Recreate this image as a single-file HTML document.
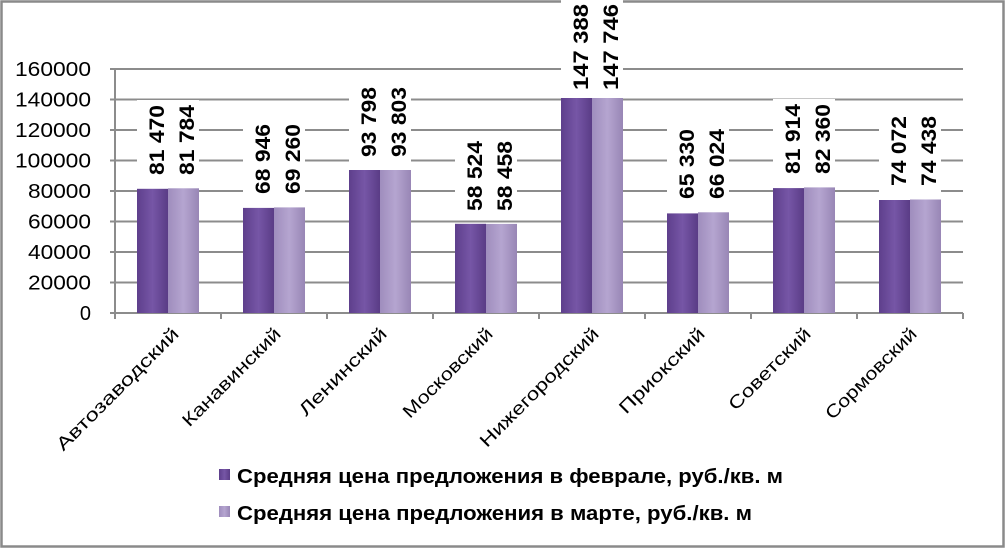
<!DOCTYPE html>
<html><head><meta charset="utf-8"><style>
html,body{margin:0;padding:0;background:#fff;}
svg{display:block;font-family:"Liberation Sans",sans-serif;}
</style></head><body>
<svg width="1006" height="549" viewBox="0 0 1006 549" xmlns="http://www.w3.org/2000/svg">
<defs>
<linearGradient id="d" x1="0" x2="1" y1="0" y2="0"><stop offset="0" stop-color="#5e3f8c"/><stop offset="0.5" stop-color="#7656a6"/><stop offset="1" stop-color="#5a3c86"/></linearGradient>
<linearGradient id="l" x1="0" x2="1" y1="0" y2="0"><stop offset="0" stop-color="#9f8dbd"/><stop offset="0.5" stop-color="#b5a5d0"/><stop offset="1" stop-color="#9886b5"/></linearGradient>
</defs>
<rect x="1.5" y="1.5" width="1002" height="545" fill="#fff" stroke="#8a8a8a" stroke-width="2.5"/>
<g stroke="#8c8c8c" stroke-width="2">
<line x1="110" x2="963" y1="69" y2="69"/><line x1="110" x2="963" y1="99.5" y2="99.5"/><line x1="110" x2="963" y1="130" y2="130"/><line x1="110" x2="963" y1="160.5" y2="160.5"/><line x1="110" x2="963" y1="191" y2="191"/><line x1="110" x2="963" y1="221.5" y2="221.5"/><line x1="110" x2="963" y1="252" y2="252"/><line x1="110" x2="963" y1="282.5" y2="282.5"/>
<line x1="115" x2="115" y1="69" y2="319"/>
<line x1="110" x2="963" y1="313" y2="313"/>
<line x1="221" x2="221" y1="313" y2="319"/><line x1="327" x2="327" y1="313" y2="319"/><line x1="433" x2="433" y1="313" y2="319"/><line x1="539" x2="539" y1="313" y2="319"/><line x1="645" x2="645" y1="313" y2="319"/><line x1="751" x2="751" y1="313" y2="319"/><line x1="857" x2="857" y1="313" y2="319"/><line x1="963" x2="963" y1="313" y2="319"/>
</g>
<g font-size="20" text-anchor="end" fill="#000" lengthAdjust="spacingAndGlyphs">
<text x="91" y="76" textLength="76" lengthAdjust="spacingAndGlyphs">160000</text><text x="91" y="106.5" textLength="76" lengthAdjust="spacingAndGlyphs">140000</text><text x="91" y="137" textLength="76" lengthAdjust="spacingAndGlyphs">120000</text><text x="91" y="167.5" textLength="76" lengthAdjust="spacingAndGlyphs">100000</text><text x="91" y="198" textLength="63" lengthAdjust="spacingAndGlyphs">80000</text><text x="91" y="228.5" textLength="63" lengthAdjust="spacingAndGlyphs">60000</text><text x="91" y="259" textLength="63" lengthAdjust="spacingAndGlyphs">40000</text><text x="91" y="289.5" textLength="63" lengthAdjust="spacingAndGlyphs">20000</text><text x="91" y="320">0</text>
</g>
<g>
<rect x="137" y="188.8" width="31" height="124.2" fill="url(#d)"/><rect x="168" y="188.3" width="31" height="124.7" fill="url(#l)"/>
<rect x="243" y="207.9" width="31" height="105.1" fill="url(#d)"/><rect x="274" y="207.4" width="31" height="105.6" fill="url(#l)"/>
<rect x="349" y="170" width="31" height="143" fill="url(#d)"/><rect x="380" y="170" width="31" height="143" fill="url(#l)"/>
<rect x="455" y="223.8" width="31" height="89.2" fill="url(#d)"/><rect x="486" y="223.9" width="31" height="89.1" fill="url(#l)"/>
<rect x="561" y="88.2" width="31" height="224.8" fill="url(#d)"/><rect x="592" y="87.7" width="31" height="225.3" fill="url(#l)"/>
<rect x="667" y="213.4" width="31" height="99.6" fill="url(#d)"/><rect x="698" y="212.3" width="31" height="100.7" fill="url(#l)"/>
<rect x="773" y="188.1" width="31" height="124.9" fill="url(#d)"/><rect x="804" y="187.4" width="31" height="125.6" fill="url(#l)"/>
<rect x="879" y="200" width="31" height="113" fill="url(#d)"/><rect x="910" y="199.5" width="31" height="113.5" fill="url(#l)"/>
</g>
<g fill="#fff">
<rect x="137" y="100" width="62" height="83"/>
<rect x="243" y="119" width="62" height="83"/>
<rect x="349" y="81" width="62" height="84"/>
<rect x="455" y="135" width="62" height="84"/>
<rect x="561" y="0" width="62" height="98"/>
<rect x="667" y="124" width="62" height="83"/>
<rect x="773" y="99" width="62" height="83"/>
<rect x="879" y="111" width="62" height="83"/>
</g>
<g font-size="21" font-weight="bold" fill="#000">
<text transform="translate(164,175) rotate(-90)" textLength="70" lengthAdjust="spacingAndGlyphs">81 470</text><text transform="translate(194,175) rotate(-90)" textLength="70" lengthAdjust="spacingAndGlyphs">81 784</text>
<text transform="translate(270,194) rotate(-90)" textLength="70" lengthAdjust="spacingAndGlyphs">68 946</text><text transform="translate(300,194) rotate(-90)" textLength="70" lengthAdjust="spacingAndGlyphs">69 260</text>
<text transform="translate(376,157) rotate(-90)" textLength="70" lengthAdjust="spacingAndGlyphs">93 798</text><text transform="translate(406,157) rotate(-90)" textLength="70" lengthAdjust="spacingAndGlyphs">93 803</text>
<text transform="translate(482,211) rotate(-90)" textLength="70" lengthAdjust="spacingAndGlyphs">58 524</text><text transform="translate(512,211) rotate(-90)" textLength="70" lengthAdjust="spacingAndGlyphs">58 458</text>
<text transform="translate(588,90) rotate(-90)" textLength="86" lengthAdjust="spacingAndGlyphs">147 388</text><text transform="translate(618,90) rotate(-90)" textLength="86" lengthAdjust="spacingAndGlyphs">147 746</text>
<text transform="translate(694,199) rotate(-90)" textLength="70" lengthAdjust="spacingAndGlyphs">65 330</text><text transform="translate(724,199) rotate(-90)" textLength="70" lengthAdjust="spacingAndGlyphs">66 024</text>
<text transform="translate(800,174) rotate(-90)" textLength="70" lengthAdjust="spacingAndGlyphs">81 914</text><text transform="translate(830,174) rotate(-90)" textLength="70" lengthAdjust="spacingAndGlyphs">82 360</text>
<text transform="translate(906,186) rotate(-90)" textLength="70" lengthAdjust="spacingAndGlyphs">74 072</text><text transform="translate(936,186) rotate(-90)" textLength="70" lengthAdjust="spacingAndGlyphs">74 438</text>
</g>
<g font-size="18" text-anchor="end" fill="#000">
<text transform="translate(180,335) rotate(-45)" textLength="165" lengthAdjust="spacingAndGlyphs">Автозаводский</text>
<text transform="translate(282,335) rotate(-45)" textLength="131" lengthAdjust="spacingAndGlyphs">Канавинский</text>
<text transform="translate(388,335) rotate(-45)" textLength="116" lengthAdjust="spacingAndGlyphs">Ленинский</text>
<text transform="translate(494,335) rotate(-45)" textLength="119" lengthAdjust="spacingAndGlyphs">Московский</text>
<text transform="translate(600,335) rotate(-45)" textLength="160" lengthAdjust="spacingAndGlyphs">Нижегородский</text>
<text transform="translate(706,335) rotate(-45)" textLength="113" lengthAdjust="spacingAndGlyphs">Приокский</text>
<text transform="translate(812,335) rotate(-45)" textLength="108" lengthAdjust="spacingAndGlyphs">Советский</text>
<text transform="translate(918,335) rotate(-45)" textLength="121" lengthAdjust="spacingAndGlyphs">Сормовский</text>
</g>
<rect x="219" y="469" width="11" height="11" fill="url(#d)"/>
<rect x="219" y="506" width="11" height="11" fill="url(#l)"/>
<g font-size="20" font-weight="bold" fill="#000">
<text x="237" y="483" textLength="546" lengthAdjust="spacingAndGlyphs">Средняя цена предложения в феврале, руб./кв. м</text>
<text x="237" y="520" textLength="515" lengthAdjust="spacingAndGlyphs">Средняя цена предложения в марте, руб./кв. м</text>
</g>
</svg>
</body></html>
